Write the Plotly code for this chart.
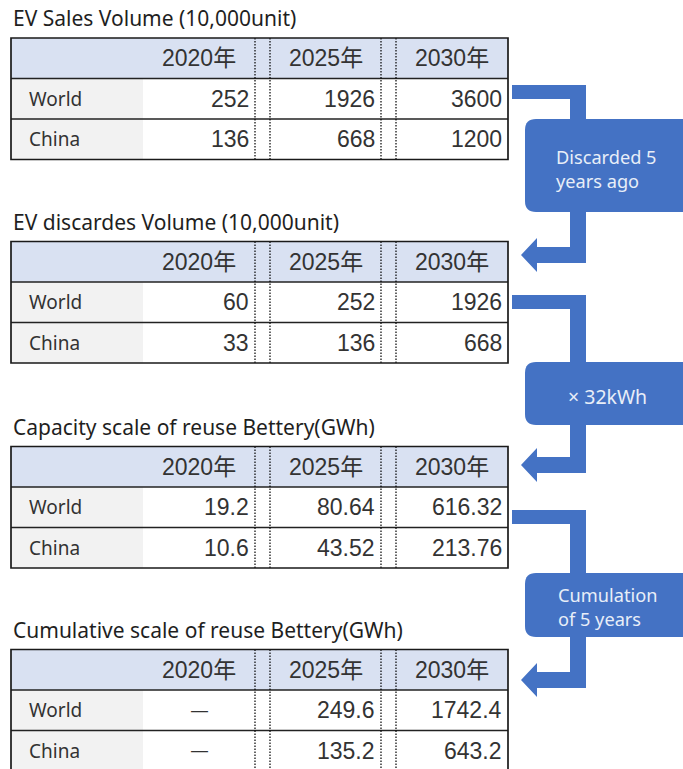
import plotly.graph_objects as go

# ---------------- data ----------------
years = ["2020年", "2025年", "2030年"]
regions = ["World", "China"]

titles = [
    "EV Sales Volume (10,000unit)",
    "EV discardes Volume (10,000unit)",
    "Capacity scale of reuse Bettery(GWh)",
    "Cumulative scale of reuse Bettery(GWh)",
]

sales_world = [252, 1926, 3600]
sales_china = [136, 668, 1200]
discard_world = [60, 252, 1926]
discard_china = [33, 136, 668]
capacity_world = [19.2, 80.64, 616.32]
capacity_china = [10.6, 43.52, 213.76]
cumulative_world = [None, 249.6, 1742.4]
cumulative_china = [None, 135.2, 643.2]

step_labels = ["Discarded 5<br>years ago", "× 32kWh", "Cumulation<br>of 5 years"]

tables = [
    (sales_world, sales_china),
    (discard_world, discard_china),
    (capacity_world, capacity_china),
    (cumulative_world, cumulative_china),
]

# ---------------- layout / style ----------------
W, H = 683, 769
BLUE = "#4472C4"
HEAD_FILL = "#D9E1F2"
LABEL_FILL = "#F2F2F2"
NUM_FONT = "Liberation Sans, Noto Sans CJK SC, sans-serif"
TXT_FONT = "Noto Sans, Noto Sans CJK SC, sans-serif"
TXT_COLOR = "#333333"

X0, XL, XR = 11, 143, 508
DIV = [(255, 270), (381, 396)]
COL_SPANS = [(XL, 255), (270, 381), (396, XR)]
TOPS = [38, 241.5, 446.5, 649.5]
ROW_H = 40.5

fig = go.Figure()
shapes = []
annots = []


def fmt(v):
    return "—" if v is None else str(v)


for ti, (title, (wv, cv)) in enumerate(zip(titles, tables)):
    top = TOPS[ti]
    ys = [top + ROW_H * k for k in range(4)]
    # title
    annots.append(dict(x=X0, y=top - 20, text=title, xanchor="left", yanchor="middle",
                       showarrow=False, font=dict(family=TXT_FONT, size=21, color="#1f1f1f")))
    # fills
    shapes.append(dict(type="rect", x0=X0, x1=XR, y0=ys[0], y1=ys[1], fillcolor=HEAD_FILL,
                       line=dict(width=0), layer="below"))
    shapes.append(dict(type="rect", x0=X0, x1=XL, y0=ys[1], y1=ys[3], fillcolor=LABEL_FILL,
                       line=dict(width=0), layer="below"))
    # horizontal lines
    for k in (1, 2):
        shapes.append(dict(type="line", x0=X0, x1=XR, y0=ys[k], y1=ys[k],
                           line=dict(color="#222222", width=1.4)))
    # dotted dividers
    for a, b in DIV:
        for xx in (a, b):
            shapes.append(dict(type="line", x0=xx, x1=xx, y0=ys[0], y1=ys[3],
                               line=dict(color="#000000", width=1.2, dash="1.5px,1.5px")))
    # border
    shapes.append(dict(type="rect", x0=X0, x1=XR, y0=ys[0], y1=ys[3],
                       line=dict(color="#1a1a1a", width=1.7)))
    # header
    for (a, b), yr in zip(COL_SPANS, years):
        annots.append(dict(x=(a + b) / 2, y=(ys[0] + ys[1]) / 2, text=yr, xanchor="center",
                           yanchor="middle", showarrow=False,
                           font=dict(family=NUM_FONT, size=23, color=TXT_COLOR)))
    # rows
    for r, (reg, vals) in enumerate(zip(regions, (wv, cv))):
        yc = (ys[r + 1] + ys[r + 2]) / 2
        annots.append(dict(x=27, y=yc, text=reg, xanchor="left", yanchor="middle", showarrow=False,
                           font=dict(family=TXT_FONT, size=19, color=TXT_COLOR)))
        for (a, b), v in zip(COL_SPANS, vals):
            if v is None:
                annots.append(dict(x=(a + b) / 2, y=yc, text=fmt(v), xanchor="center",
                                   yanchor="middle", showarrow=False,
                                   font=dict(family=NUM_FONT, size=17, color=TXT_COLOR)))
            else:
                annots.append(dict(x=b - 4.5, y=yc, text=fmt(v), xanchor="right", yanchor="middle",
                                   showarrow=False,
                                   font=dict(family=NUM_FONT, size=23, color=TXT_COLOR)))

# ---------------- connector arrows ----------------
ARROWS = [
    # top bar y, bottom tip y, box y0, box y1, text x, text y, text size
    (85, 255, 119, 212, 554, 169, 18.2),
    (295, 465, 362, 425, 566, 396, 19.5),
    (510, 680, 573, 637, 556, 607, 18.2),
]
BAR = 15
XS, XV0, XV1 = 512, 570, 586
TIPX, HEADX, HEADH = 521, 537, 17


def arrow_path(yt, ytip):
    yb0, yb1 = ytip - 8, ytip + 8
    pts = [(XS, yt), (XV1, yt), (XV1, yb1), (HEADX, yb1), (HEADX, ytip + HEADH),
           (TIPX, ytip), (HEADX, ytip - HEADH), (HEADX, yb0), (XV0, yb0), (XV0, yt + BAR - 1),
           (XS, yt + BAR - 1)]
    return "M " + " L ".join(f"{x},{y}" for x, y in pts) + " Z"


def rounded_rect(x0, y0, x1, y1, r):
    return (f"M {x0 + r},{y0} L {x1 - r},{y0} Q {x1},{y0} {x1},{y0 + r} L {x1},{y1 - r} "
            f"Q {x1},{y1} {x1 - r},{y1} L {x0 + r},{y1} Q {x0},{y1} {x0},{y1 - r} "
            f"L {x0},{y0 + r} Q {x0},{y0} {x0 + r},{y0} Z")


for (yt, ytip, by0, by1, tx, ty, tsz), lab in zip(ARROWS, step_labels):
    shapes.append(dict(type="path", path=arrow_path(yt, ytip), fillcolor=BLUE, line=dict(width=0)))
    shapes.append(dict(type="path", path=rounded_rect(525, by0, 695, by1, 11), fillcolor=BLUE,
                       line=dict(width=0)))
    annots.append(dict(x=tx, y=ty, text=lab, xanchor="left", yanchor="middle", align="left",
                       showarrow=False, font=dict(family=TXT_FONT, size=tsz, color="#E8EEF8")))

fig.add_trace(go.Scatter(x=[0, W], y=[0, H], mode="markers", marker=dict(opacity=0),
                         hoverinfo="skip", showlegend=False))

fig.update_layout(
    width=W, height=H,
    margin=dict(l=0, r=0, t=0, b=0),
    paper_bgcolor="white", plot_bgcolor="white",
    xaxis=dict(range=[0, W], visible=False, fixedrange=True),
    yaxis=dict(range=[H, 0], visible=False, fixedrange=True),
    shapes=shapes, annotations=annots, showlegend=False,
)

fig.write_html("out.html")
